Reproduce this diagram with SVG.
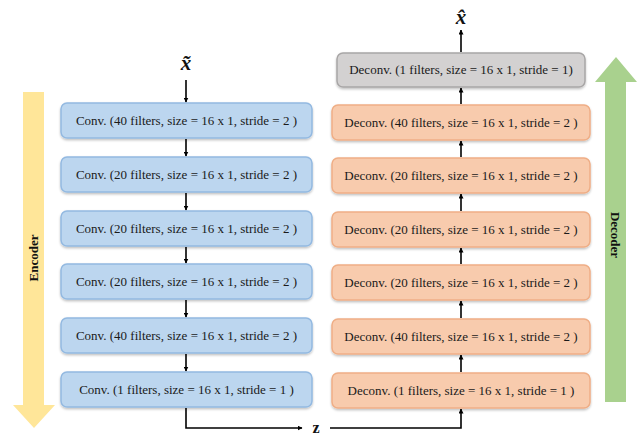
<svg xmlns="http://www.w3.org/2000/svg" width="643" height="437" viewBox="0 0 643 437">
<defs>
<marker id="ah" viewBox="0 0 10 10" refX="9" refY="5" markerWidth="5" markerHeight="5" orient="auto-start-reverse" markerUnits="userSpaceOnUse">
<path d="M0,0 L10,5 L0,10 z" fill="#000"/>
</marker>
<filter id="sh" x="-5%" y="-20%" width="110%" height="150%">
<feDropShadow dx="0" dy="1.5" stdDeviation="1" flood-color="#000" flood-opacity="0.25"/>
</filter>
</defs>
<style>
.enc rect{fill:#BCD6EF;stroke:#93B9E1;stroke-width:1.5;filter:url(#sh)}
.dec rect{fill:#F8CBAD;stroke:#EFAE86;stroke-width:1.5;filter:url(#sh)}
.out rect{fill:#D3D1D1;stroke:#A8A6A6;stroke-width:1.5;filter:url(#sh)}
text{font-family:"Liberation Serif","Times New Roman",serif;fill:#1a1a1a}
.lbl{font-size:13px;text-anchor:middle}
.side{font-size:13px;font-weight:bold;text-anchor:middle;fill:#111}
.sym{font-size:21px;font-style:italic;font-weight:bold;text-anchor:middle;fill:#111}
.cn line,.cn path{stroke:#000;stroke-width:1.6;fill:none}
</style>
<rect width="643" height="437" fill="#fff"/>
<g id="encoder-arrow">
<path d="M23,92 H44 V405 H55 L34,428 L13,405 H23 Z" fill="#FFE699"/>
<text class="side" transform="translate(38,258) rotate(-90)">Encoder</text>
</g>
<g id="decoder-arrow">
<path d="M605,402 V82 H595 L616,57 L637,82 H626 V402 Z" fill="#A9D18E"/>
<text class="side" transform="translate(611,235) rotate(90)">Decoder</text>
</g>
<g id="e1" class="enc"><rect x="61" y="103" width="251" height="35" rx="6"/><text class="lbl" x="186.5" y="125">Conv. (40 filters, size = 16 x 1, stride = 2 )</text></g>
<g id="e2" class="enc"><rect x="61" y="157" width="251" height="35" rx="6"/><text class="lbl" x="186.5" y="179">Conv. (20 filters, size = 16 x 1, stride = 2 )</text></g>
<g id="e3" class="enc"><rect x="61" y="211" width="251" height="35" rx="6"/><text class="lbl" x="186.5" y="233">Conv. (20 filters, size = 16 x 1, stride = 2 )</text></g>
<g id="e4" class="enc"><rect x="61" y="264" width="251" height="35" rx="6"/><text class="lbl" x="186.5" y="286">Conv. (20 filters, size = 16 x 1, stride = 2 )</text></g>
<g id="e5" class="enc"><rect x="61" y="318" width="251" height="35" rx="6"/><text class="lbl" x="186.5" y="340">Conv. (40 filters, size = 16 x 1, stride = 2 )</text></g>
<g id="e6" class="enc"><rect x="61" y="372" width="251" height="35" rx="6"/><text class="lbl" x="186.5" y="394">Conv. (1 filters, size = 16 x 1, stride = 1 )</text></g>
<g id="d0" class="out"><rect x="337" y="53" width="248" height="34" rx="6"/><text class="lbl" x="461" y="74">Deconv. (1 filters, size = 16 x 1, stride = 1)</text></g>
<g id="d1" class="dec"><rect x="332" y="105" width="258" height="35" rx="6"/><text class="lbl" x="461" y="127">Deconv. (40 filters, size = 16 x 1, stride = 2 )</text></g>
<g id="d2" class="dec"><rect x="332" y="158" width="258" height="35" rx="6"/><text class="lbl" x="461" y="180">Deconv. (20 filters, size = 16 x 1, stride = 2 )</text></g>
<g id="d3" class="dec"><rect x="332" y="212" width="258" height="35" rx="6"/><text class="lbl" x="461" y="234">Deconv. (20 filters, size = 16 x 1, stride = 2 )</text></g>
<g id="d4" class="dec"><rect x="332" y="265" width="258" height="35" rx="6"/><text class="lbl" x="461" y="287">Deconv. (20 filters, size = 16 x 1, stride = 2 )</text></g>
<g id="d5" class="dec"><rect x="332" y="319" width="258" height="35" rx="6"/><text class="lbl" x="461" y="341">Deconv. (40 filters, size = 16 x 1, stride = 2 )</text></g>
<g id="d6" class="dec"><rect x="332" y="373" width="258" height="35" rx="6"/><text class="lbl" x="461" y="395">Deconv. (1 filters, size = 16 x 1, stride = 1 )</text></g>
<g id="x-tilde"><text class="sym" x="186" y="70">x̃</text></g>
<g id="x-hat"><text class="sym" x="461" y="24">x̂</text></g>
<g id="z-label"><text x="316" y="433" style="font-size:16px;font-weight:bold;text-anchor:middle;fill:#111">z</text></g>
<g id="connectors" class="cn">
<line x1="186" y1="80" x2="186" y2="102" marker-end="url(#ah)"/>
<line x1="186" y1="139" x2="186" y2="156" marker-end="url(#ah)"/>
<line x1="186" y1="193" x2="186" y2="210" marker-end="url(#ah)"/>
<line x1="186" y1="247" x2="186" y2="263" marker-end="url(#ah)"/>
<line x1="186" y1="300" x2="186" y2="317" marker-end="url(#ah)"/>
<line x1="186" y1="354" x2="186" y2="371" marker-end="url(#ah)"/>
<path d="M186,408 V428 H302" marker-end="url(#ah)"/>
<path d="M330,428 H461 V409" marker-end="url(#ah)"/>
<line x1="461" y1="372" x2="461" y2="355" marker-end="url(#ah)"/>
<line x1="461" y1="318" x2="461" y2="301" marker-end="url(#ah)"/>
<line x1="461" y1="264" x2="461" y2="248" marker-end="url(#ah)"/>
<line x1="461" y1="211" x2="461" y2="194" marker-end="url(#ah)"/>
<line x1="461" y1="157" x2="461" y2="141" marker-end="url(#ah)"/>
<line x1="461" y1="104" x2="461" y2="88" marker-end="url(#ah)"/>
<line x1="461" y1="52" x2="461" y2="30" marker-end="url(#ah)"/>
</g>
</svg>
